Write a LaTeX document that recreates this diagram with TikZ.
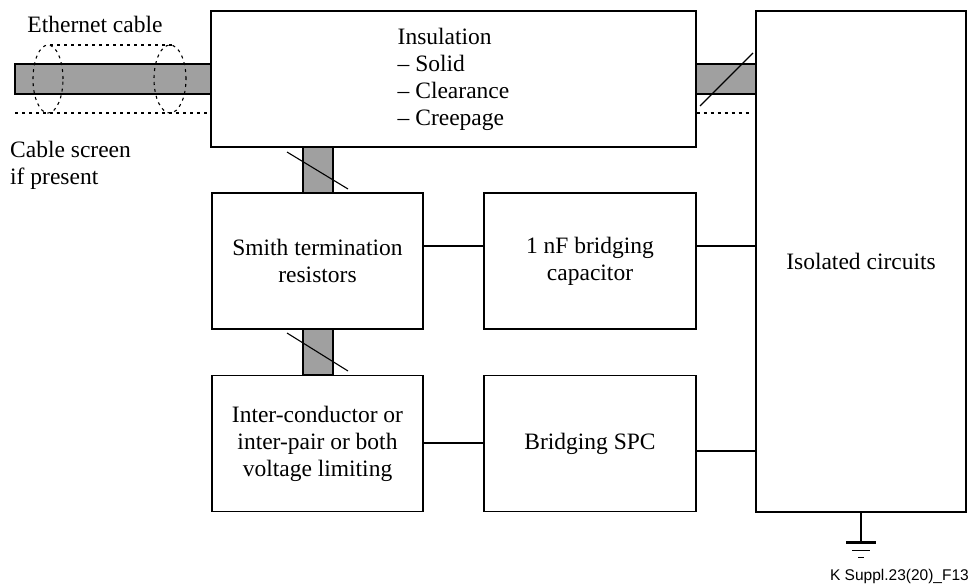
\documentclass[tikz,border=0pt]{standalone}
\usepackage{fontspec}
\setmainfont{Liberation Serif}
\newfontfamily\labelsans{Liberation Sans}
\usetikzlibrary{calc}
\definecolor{cablegray}{RGB}{160,160,160}
\newcommand\mainsz{\fontsize{23.5}{27}\selectfont}
\begin{document}
\begin{tikzpicture}[x=1pt,y=-1pt,
  box/.style={draw,line width=1.1pt,inner sep=0pt,align=center,font=\mainsz},
  bar/.style={draw,line width=1.1pt,fill=cablegray},
  screen/.style={line width=1.1pt,dash pattern=on 3pt off 4pt},
  wire/.style={line width=1.1pt},
  txt/.style={inner sep=0pt,font=\mainsz}]
\useasboundingbox (0,0) rectangle (971,585);

% cable bars
\draw[bar] (15,64) rectangle (211,94);
\draw[bar] (696,64) rectangle (756,94);
\draw[bar] (303,147) rectangle (333,193);
\draw[bar] (303,329) rectangle (333,375);

% boxes
\node[box,minimum width=485pt,minimum height=136pt,align=left] (ins) at (453.5,79)
  {Insulation\\– Solid\\– Clearance\\– Creepage};
\node[box,minimum width=210pt,minimum height=501pt] (iso) at (861,261.5) {Isolated circuits};
\node[box,minimum width=211pt,minimum height=136pt] (smith) at (317.5,261) {Smith termination\\resistors};
\node[box,minimum width=212pt,minimum height=136pt] (cap) at (590,261) {1 nF bridging\\capacitor};
\node[box,minimum width=211pt,minimum height=136pt] (lim) at (317.5,443.5) {Inter-conductor or\\inter-pair or both\\voltage limiting};
\node[box,minimum width=212pt,minimum height=136pt] (spc) at (590,443.5) {Bridging SPC};

% connectors
\draw[wire] ($(smith.east)+(0,-15)$) -- ($(cap.west)+(0,-15)$);
\draw[wire] ($(cap.east)+(0,-15)$) -- (iso.west |- {$(cap.east)+(0,-15)$});
\draw[wire] ($(lim.east)+(0,-0.5)$) -- ($(spc.west)+(0,-0.5)$);
\draw[wire] ($(spc.east)+(0,7.5)$) -- (iso.west |- {$(spc.east)+(0,7.5)$});

% slashes across bundles
\draw[wire] (700,106) -- (753,53);
\draw[wire] (287,152) -- (348,189);
\draw[wire] (287,333) -- (348,371);

% cable screen
\draw[screen] (15,113) -- (ins.west |- 0,113);
\draw[screen] (ins.east |- 0,113) -- (752,113);
\draw[screen] (48,79) ellipse [x radius=15pt,y radius=34pt];
\draw[screen] (170,79) ellipse [x radius=16pt,y radius=34pt];
\draw[screen] (50,45) -- (172,45);

% ground
\coordinate (g) at ($(iso.south)+(0,30)$);
\draw[wire] (iso.south) -- (g);
\draw[line width=2.4pt] ($(g)+(-15,0)$) -- ($(g)+(15,0)$);
\draw[line width=1.6pt] ($(g)+(-9,8)$) -- ($(g)+(9,8)$);
\draw[line width=1.6pt] ($(g)+(-3,15)$) -- ($(g)+(3,15)$);

% labels
\node[txt] (eth) at (95,24) {Ethernet cable};
\node[txt,align=left,anchor=west] (scr) at (10,165.5) {Cable screen\\if present};
\node[inner sep=0pt,anchor=base east,font=\labelsans\fontsize{15.5}{18}\selectfont] (fig) at (969,580) {K Suppl.23(20)\_F13};
\end{tikzpicture}
\end{document}
